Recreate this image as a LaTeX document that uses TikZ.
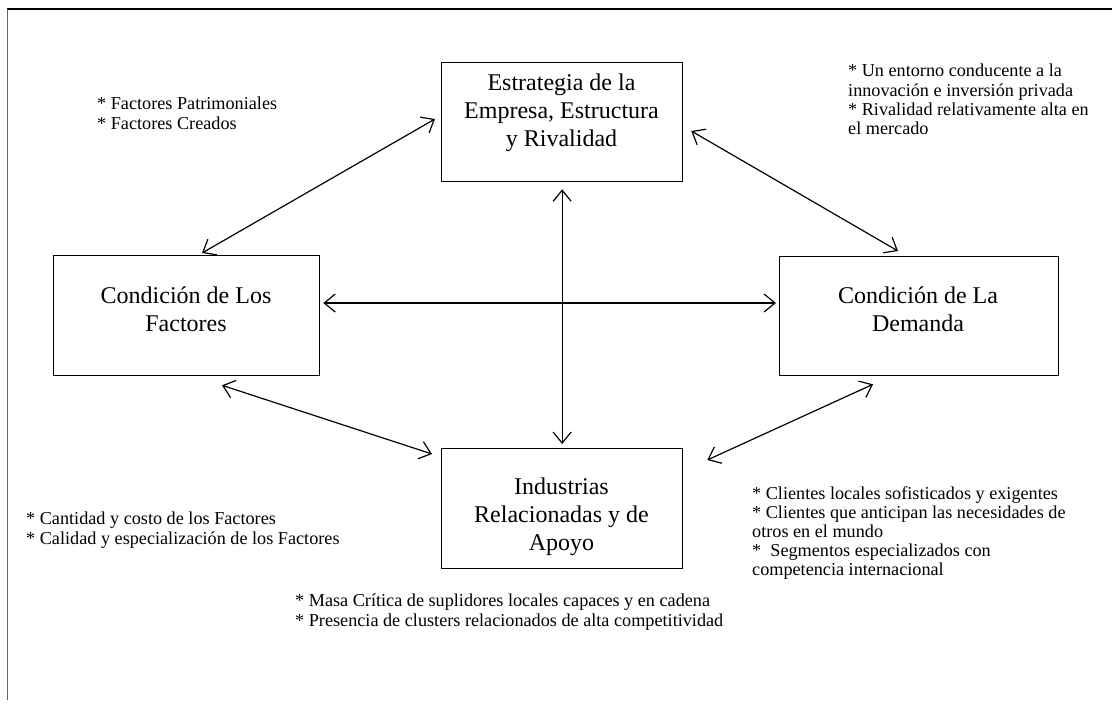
\documentclass[tikz,border=0pt]{standalone}
\usepackage{fontspec}
\setmainfont{Liberation Serif}
\usetikzlibrary{arrows.meta,calc}
\begin{document}
\begin{tikzpicture}[x=1pt,y=-1pt,
  box/.style={draw,line width=1.3pt,rectangle,inner sep=0pt,anchor=north west},
  title/.style={font=\fontsize{24}{28}\selectfont,align=center,inner sep=0pt},
  note/.style={font=\fontsize{18.2}{19.2}\selectfont,align=left,inner sep=0pt,anchor=north west},
  barb/.tip={Straight Barb[length=11pt,width=18pt,line width=1.2pt]},
  link/.style={line width=1.2pt,{barb}-{barb}}]
\useasboundingbox (0,0) rectangle (1112,707);

% page frame (top and left rules)
\draw[line width=1.2pt] (7,9) -- (1112,9);
\draw[line width=1pt,black!60] (7,9) -- (7,700);

% the four boxes
\node[box,minimum width=241pt,minimum height=119pt] (est) at (441,62) {};
\node[box,minimum width=266pt,minimum height=120pt] (fac) at (53,255) {};
\node[box,minimum width=279pt,minimum height=119pt] (dem) at (779,256) {};
\node[box,minimum width=241pt,minimum height=120pt] (ind) at (441,448) {};

% box captions
\node[title] (estT) at (561.5,113) {Estrategia de la\\Empresa, Estructura\\y Rivalidad};
\node[title] (facT) at (186,309) {Condición de Los\\Factores};
\node[title] (demT) at (918,309) {Condición de La\\Demanda};
\node[title] (indT) at (561.5,517) {Industrias\\Relacionadas y de\\Apoyo};

% notes
\node[note] (n1) at (97,97) {* Factores Patrimoniales\\* Factores Creados};
\node[note] (n2) at (848,64) {* Un entorno conducente a la\\innovación e inversión privada\\* Rivalidad relativamente alta en\\el mercado};
\node[note] (n3) at (26,512) {* Cantidad y costo de los Factores\\* Calidad y especialización de los Factores};
\node[note] (n4) at (752,486) {* Clientes locales sofisticados y exigentes\\* Clientes que anticipan las necesidades de\\otros en el mundo\\*\ \ Segmentos especializados con\\competencia internacional};
\node[note] (n5) at (295,594) {* Masa Crítica de suplidores locales capaces y en cadena\\* Presencia de clusters relacionados de alta competitividad};

% two-way links
\draw[link] ($(fac.north west)+(149,-2)$) -- ($(est.north west)+(-6,57)$);
\draw[link] ($(est.north east)+(8,69)$) -- ($(dem.north west)+(119,-5)$);
\draw[link] ($(fac.north east)+(3,48)$) -- ($(dem.north west)+(-3,47)$);
\draw[link] ($(est.south)+(0,7)$) -- ($(ind.north)+(0,-4)$);
\draw[link] ($(fac.south west)+(169,9)$) -- ($(ind.north west)+(-9,6)$);
\draw[link] ($(dem.south west)+(94,8)$) -- ($(ind.north east)+(24,12)$);
\end{tikzpicture}
\end{document}
